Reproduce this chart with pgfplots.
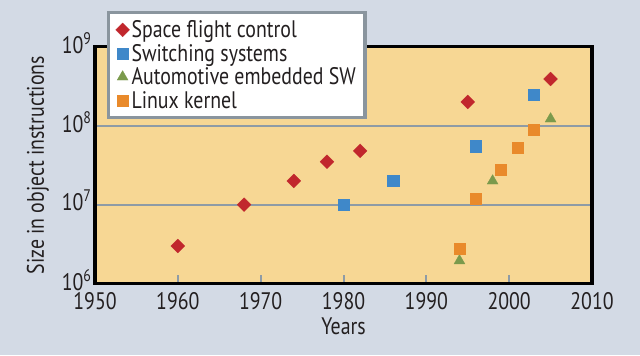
\documentclass[border=0pt]{standalone}
\usepackage{fontspec}
\setmainfont{PT Sans}[FakeStretch=0.83]
\usepackage{pgfplots}
\pgfplotsset{compat=1.18}
\definecolor{bgc}{HTML}{D3DAE5}
\definecolor{plotbg}{HTML}{F7D794}
\definecolor{gridc}{HTML}{8E9BA6}
\definecolor{legc}{HTML}{8A959E}
\definecolor{cred}{HTML}{C1272D}
\definecolor{cblue}{HTML}{3F88C9}
\definecolor{cgreen}{HTML}{7B9A4C}
\definecolor{corange}{HTML}{E98A2B}
\definecolor{txt}{HTML}{231F20}
\begin{document}
\begin{tikzpicture}[x=1bp,y=1bp]
\useasboundingbox (0,0) rectangle (640,355);
\fill[bgc] (0,0) rectangle (640,355);
\begin{axis}[
  at={(95bp,71.3bp)}, anchor=south west,
  scale only axis, width=497bp, height=237bp,
  xmin=1950, xmax=2010, ymode=log, ymin=1e6, ymax=1e9,
  axis background/.style={fill=plotbg},
  axis line style={draw=none},
  xtick={1950,1960,1970,1980,1990,2000,2010},
  xticklabels={1950,1960,1970,1980,1990,2000,2010},
  xtick pos=left, xtick align=inside,
  major tick length=9bp,
  xtick style={gridc, line width=2bp},
  ytick={1e6,1e7,1e8,1e9},
  yticklabels={10\textsuperscript{6},10\textsuperscript{7},10\textsuperscript{8},10\textsuperscript{9}},
  ytick style={draw=none}, yminorticks=false,
  ymajorgrids, grid style={gridc, line width=2bp},
  tick label style={font=\fontsize{24}{24}\selectfont, text=txt},
  xticklabel style={yshift=-5bp},
  yticklabel style={yshift=4bp},
  xlabel={Years}, ylabel={Size in object instructions},
  label style={font=\fontsize{24}{24}\selectfont, text=txt},
  xlabel style={at={(axis description cs:0.5,-0.18)}, anchor=center},
  ylabel style={at={(axis description cs:-0.115,0.5)}, anchor=center},
  legend style={at={(rel axis cs:0.024,1.151)}, anchor=north west, fill=white, draw=legc, line width=3.5bp,
    font=\fontsize{24}{24}\selectfont, text=txt, row sep=1bp, inner xsep=7bp, inner ysep=6bp},
  legend cell align=left,
  clip=false,
]
\addplot[only marks, mark=square*, mark size=4.9bp, mark options={rotate=45, fill=cred, draw=cred, line width=0.3bp}]
  coordinates {(1960,3e6) (1968,1e7) (1974,2e7) (1978,3.5e7) (1982,4.8e7) (1995,2e8) (2005,3.9e8)};
\addlegendentry{Space flight control}
\addplot[only marks, mark=square*, mark size=5.6bp, mark options={fill=cblue, draw=cblue, line width=0.3bp}]
  coordinates {(1980,1e7) (1986,2.03e7) (1996,5.5e7) (2003,2.5e8)};
\addlegendentry{Switching systems}
\addplot[only marks, mark=triangle*, mark size=6.3bp, mark options={fill=cgreen, draw=cgreen, line width=0.3bp}]
  coordinates {(1994,1.95e6) (1998,2e7) (2005,1.22e8)};
\addlegendentry{Automotive embedded SW}
\addplot[only marks, mark=square*, mark size=5.6bp, mark options={fill=corange, draw=corange, line width=0.3bp}]
  coordinates {(1994,2.8e6) (1996,1.18e7) (1999,2.8e7) (2001,5.3e7) (2003,8.9e7)};
\addlegendentry{Linux kernel}
\draw[line width=3.5bp, black] (rel axis cs:0,0) rectangle (rel axis cs:1,1);
\end{axis}
\end{tikzpicture}
\end{document}
